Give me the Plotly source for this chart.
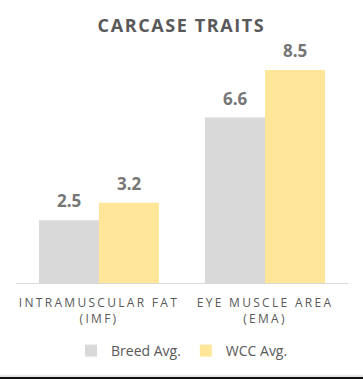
import plotly.graph_objects as go

cat_lines = [["INTRAMUSCULAR FAT", "(IMF)"], ["EYE MUSCLE AREA", "(EMA)"]]
breed_avg = [2.5, 6.6]
wcc_avg = [3.2, 8.5]
series_names = ["Breed Avg.", "WCC Avg."]
colors = ["#D9D9D9", "#FFE699"]

def spaced(s, px):
    return f'<span style="letter-spacing:{px}px">{s}</span>'

categories = ["<br>".join(spaced(l, 2.3) for l in lines) for lines in cat_lines]

W, H = 363, 379
ml, mr, mt, mb = 16, 15, 40, 96
plot_h = H - mt - mb

fig = go.Figure()
for name, vals, col in zip(series_names, [breed_avg, wcc_avg], colors):
    fig.add_trace(go.Bar(x=categories, y=vals, name=name, marker=dict(color=col, line=dict(width=0)),
                         hoverinfo="skip"))

annotations = []
for vals, shift in zip([breed_avg, wcc_avg], [-30, 30]):
    for c, v in zip(categories, vals):
        annotations.append(dict(x=c, y=v, xref="x", yref="y", text=f"{v:.1f}", showarrow=False,
                                xanchor="center", yanchor="bottom", xshift=shift, yshift=6,
                                font=dict(family="Open Sans", size=17, color="#767676", weight="bold")))

fig.update_layout(
    width=W, height=H,
    margin=dict(l=ml, r=mr, t=mt, b=mb),
    paper_bgcolor="white", plot_bgcolor="white",
    title=dict(text=spaced("CARCASE TRAITS", 1.6), x=0.5, xref="container", xanchor="center",
               y=1 - 26 / H, yref="container", yanchor="middle",
               font=dict(family="Open Sans", size=18, color="#595959", weight="bold")),
    barmode="group", bargap=0.277, bargroupgap=0,
    showlegend=True,
    legend=dict(orientation="h", x=0.5, xanchor="center", y=-(351 - (H - mb)) / plot_h, yanchor="middle",
                font=dict(family="Open Sans", size=14, color="#595959"), itemwidth=30,
                traceorder="normal"),
    annotations=annotations,
    xaxis=dict(showline=True, linecolor="#D9D9D9", linewidth=1, ticks="", showgrid=False,
               ticklabelstandoff=9,
               tickfont=dict(family="Open Sans", size=12, color="#595959")),
    yaxis=dict(range=[0, plot_h / 25.06], visible=False, showgrid=False, zeroline=False),
    shapes=[
        dict(type="rect", xref="paper", yref="paper", x0=-ml / (W - ml - mr), x1=1 + mr / (W - ml - mr),
             y0=-(H - (H - mb)) / plot_h, y1=-(377 - (H - mb)) / plot_h,
             fillcolor="#111111", line=dict(width=0)),
        dict(type="line", xref="paper", yref="paper", x0=-ml / (W - ml - mr), x1=1 + mr / (W - ml - mr),
             y0=-(376 - (H - mb)) / plot_h, y1=-(376 - (H - mb)) / plot_h,
             line=dict(color="#D0D0D0", width=1)),
    ],
)

fig.write_html("out.html")
